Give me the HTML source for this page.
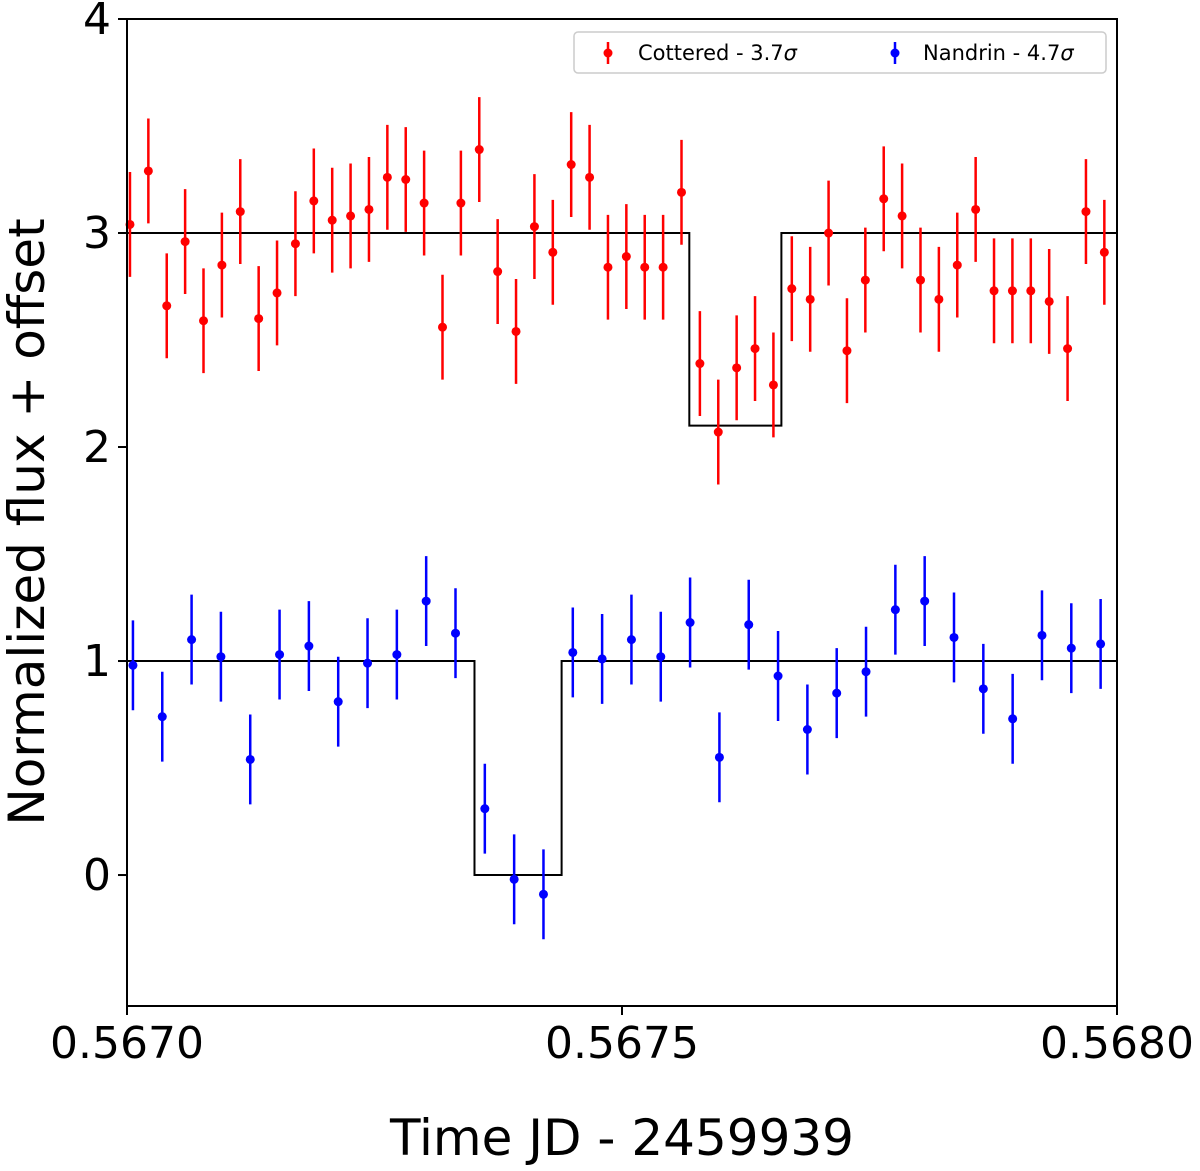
<!DOCTYPE html>
<html><head><meta charset="utf-8"><style>
html,body{margin:0;padding:0;background:#fff;}
svg{display:block;font-family:"DejaVu Sans","Liberation Sans",sans-serif;}
</style></head><body>
<svg id="chart" width="1200" height="1171"></svg>
<script>
const redFlux=[3.04,3.29,2.66,2.96,2.59,2.85,3.10,2.60,2.72,2.95,3.15,3.06,3.08,3.11,3.26,3.25,3.14,2.56,3.14,3.39,2.82,2.54,3.03,2.91,3.32,3.26,2.84,2.89,2.84,2.84,3.19,2.39,2.07,2.37,2.46,2.29,2.74,2.69,3.00,2.45,2.78,3.16,3.08,2.78,2.69,2.85,3.11,2.73,2.73,2.73,2.68,2.46,3.10,2.91];
const blueFlux=[0.98,0.74,1.10,1.02,0.54,1.03,1.07,0.81,0.99,1.03,1.28,1.13,0.31,-0.02,-0.09,1.04,1.01,1.10,1.02,1.18,0.55,1.17,0.93,0.68,0.85,0.95,1.24,1.28,1.11,0.87,0.73,1.12,1.06,1.08];
const redStart=0.567003, redCadence=0.00001857;
const blueStart=0.567006, blueCadence=0.00002962;
const redErr=0.245, blueErr=0.21;
const redModelT=[0.5670,0.567568,0.567568,0.567661,0.567661,0.5680];
const redModelF=[3,3,2.1,2.1,3,3];
const blueModelT=[0.5670,0.567351,0.567351,0.567439,0.567439,0.5680];
const blueModelF=[1,1,0,0,1,1];
const xTicks=[0.5670,0.5675,0.5680];
const xTickLabels=["0.5670","0.5675","0.5680"];
const yTicks=[0,1,2,3,4];

const L=127,R=1117,T=19,B=1006;
const xMin=0.5670,xMax=0.5680,yMin=-0.612,yMax=4;
const X=t=>L+(t-xMin)/(xMax-xMin)*(R-L);
const Y=v=>B-(v-yMin)/(yMax-yMin)*(B-T);
const svg=document.getElementById('chart');
const NS='http://www.w3.org/2000/svg';
function el(tag,attrs,parent){const e=document.createElementNS(NS,tag);for(const k in attrs)e.setAttribute(k,attrs[k]);(parent||svg).appendChild(e);return e;}

function model(ts,fs,name){
  const pts=ts.map((t,i)=>X(t)+','+Y(fs[i])).join(' ');
  const p=el('polyline',{points:pts,fill:'none',stroke:'#000','stroke-width':2});
  
  
}
function series(fl,start,cad,err,color,name){
  const g=el('g',{});
  
  
  fl.forEach((v,i)=>{
    const x=X(start+i*cad);
    const l=el('line',{x1:x,x2:x,y1:Y(v-err),y2:Y(v+err),stroke:color,'stroke-width':2.5},g);
    
    
    const c=el('circle',{cx:x,cy:Y(v),r:4.5,fill:color},g);
    
    
  });
}
model(redModelT,redModelF,'cottered-model');
model(blueModelT,blueModelF,'nandrin-model');
series(redFlux,redStart,redCadence,redErr,'#ff0000','cottered-series');
series(blueFlux,blueStart,blueCadence,blueErr,'#0000ff','nandrin-series');

const frame=el('rect',{x:L,y:T,width:R-L,height:B-T,fill:'none',stroke:'#000','stroke-width':2});



xTicks.forEach((t,i)=>{
  const x=X(t);
  el('line',{x1:x,x2:x,y1:B,y2:B+9,stroke:'#000','stroke-width':2});
  const tx=el('text',{x:x,y:B+52,'font-size':44,'text-anchor':'middle'});
  tx.textContent=xTickLabels[i];
  
  
});
yTicks.forEach(v=>{
  const y=Y(v);
  el('line',{x1:L-9,x2:L,y1:y,y2:y,stroke:'#000','stroke-width':2});
  const tx=el('text',{x:L-16,y:y+15,'font-size':44,'text-anchor':'end'});
  tx.textContent=String(v);
  
  
});
const xt=el('text',{x:622,y:1155,'font-size':50,'text-anchor':'middle'});
xt.textContent='Time JD - 2459939';


const yt=el('text',{x:0,y:0,'font-size':50,'text-anchor':'middle',transform:'translate(44,522) rotate(-90)'});
yt.textContent='Normalized flux + offset';



const lg=el('g',{});


el('rect',{x:574,y:32,width:532,height:41,rx:4,fill:'#fff',stroke:'#ccc','stroke-width':1.5},lg);
[['#ff0000',608,'Cottered - 3.7',638],['#0000ff',895,'Nandrin - 4.7',923]].forEach(d=>{
  el('line',{x1:d[1],x2:d[1],y1:42,y2:64,stroke:d[0],'stroke-width':2.5},lg);
  el('circle',{cx:d[1],cy:53,r:4.5,fill:d[0]},lg);
  const t=el('text',{x:d[3],y:60,'font-size':21},lg);
  t.textContent=d[2];
  const s=el('tspan',{'font-style':'italic'},t);
  s.textContent='σ';
  
  
});
</script>
</body></html>
